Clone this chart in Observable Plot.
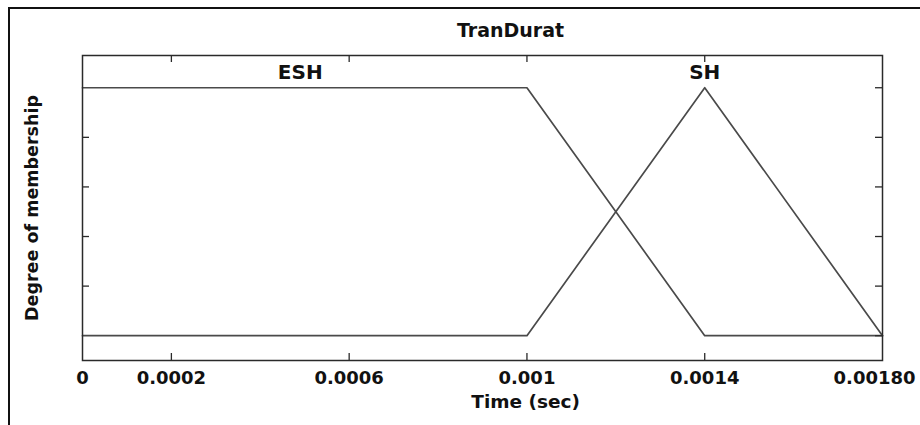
<!DOCTYPE html>
<html>
<head>
<meta charset="utf-8">
<script src="https://cdn.jsdelivr.net/npm/d3@7"></script>
<script src="https://cdn.jsdelivr.net/npm/@observablehq/plot@0.6"></script>
<style>
  html, body { margin: 0; padding: 0; background: #fff; }
  #wrap { position: relative; width: 920px; height: 425px; overflow: hidden; }
  #border { position: absolute; left: 8px; top: 7px; width: 920px; height: 430px;
            border-left: 2px solid #111; border-top: 2px solid #111; pointer-events: none; }
  #chart svg { font-family: "DejaVu Sans", sans-serif; font-weight: bold; }
</style>
</head>
<body>
<div id="wrap"><div id="chart"></div><div id="border"></div></div>
<script>
// Data
const time = [0, 0.001, 0.0014, 0.0018];
const esh = [1, 1, 0, 0];
const sh = [0, 0, 1, 0];
const seriesNames = ["ESH", "SH"];
const seriesLabelX = [0.00049, 0.0014];
const xTickValues = [0, 0.0002, 0.0006, 0.001, 0.0014, 0.0018];
const xTickLabels = ["0", "0.0002", "0.0006", "0.001", "0.0014", "0.00180"];
const innerXTicks = [0.0002, 0.0006, 0.001, 0.0014];
const yTicksLeft = [0.2, 0.4, 0.6, 0.8];
const yTicksRight = [0, 0.2, 0.4, 0.6, 0.8, 1];
const titleText = "TranDurat";
const xLabel = "Time (sec)";
const yLabel = "Degree of membership";

const rows = [];
time.forEach((t, i) => {
  rows.push({series: "ESH", t, v: esh[i]});
  rows.push({series: "SH", t, v: sh[i]});
});
const seriesLabels = seriesNames.map((s, i) => ({s, x: seriesLabelX[i], y: 1}));
const xLabelsMain = xTickValues.slice(0, -1).map((v, i) => ({v, l: xTickLabels[i]}));
const xLabelsLast = [{v: xTickValues[xTickValues.length - 1], l: xTickLabels[xTickLabels.length - 1]}];

const yMin = -0.1, yMax = 1.13;
const lineColor = "#4a4a4a";
const frameColor = "#2a2a2a";
const txt = {fontWeight: "bold", fill: "#111", lineAnchor: "middle", textAnchor: "middle"};

const chart = Plot.plot({
  width: 920,
  height: 425,
  marginLeft: 82,
  marginRight: 38,
  marginTop: 55,
  marginBottom: 65,
  x: {domain: [0, 0.0018], axis: null},
  y: {domain: [yMin, yMax], axis: null},
  style: {background: "#fff", overflow: "visible"},
  marks: [
    Plot.line(rows, {x: "t", y: "v", z: "series", stroke: lineColor, strokeWidth: 1.7}),
    Plot.frame({stroke: frameColor, strokeWidth: 1.5}),
    // inward ticks bottom / top
    Plot.ruleX(innerXTicks, {x: d => d, y1: yMin, y2: yMin, insetTop: -7, stroke: frameColor, strokeWidth: 1.3}),
    Plot.ruleX(innerXTicks, {x: d => d, y1: yMax, y2: yMax, insetBottom: -7, stroke: frameColor, strokeWidth: 1.3}),
    // inward ticks left / right
    Plot.ruleY(yTicksLeft, {y: d => d, x1: 0, x2: 0, insetRight: -7, stroke: frameColor, strokeWidth: 1.3}),
    Plot.ruleY(yTicksRight, {y: d => d, x1: 0.0018, x2: 0.0018, insetLeft: -7, stroke: frameColor, strokeWidth: 1.3}),
    // tick labels
    Plot.text(xLabelsMain, {...txt, x: "v", text: "l", frameAnchor: "bottom", dy: 17.5, fontSize: 18}),
    Plot.text(xLabelsLast, {...txt, x: "v", text: "l", frameAnchor: "bottom", dy: 17.5, dx: -8, fontSize: 18}),
    // axis labels
    Plot.text([xLabel], {...txt, x: 0.000997, frameAnchor: "bottom", dy: 41.5, text: d => d, fontSize: 18.5}),
    Plot.text([yLabel], {...txt, frameAnchor: "left", dx: -50, rotate: -90, text: d => d, fontSize: 17.5}),
    // title
    Plot.text([titleText], {...txt, x: 0.000963, frameAnchor: "top", dy: -25, text: d => d, fontSize: 19}),
    // series labels
    Plot.text(seriesLabels, {...txt, x: "x", y: "y", text: "s", dy: -15, fontSize: 20})
  ]
});
document.getElementById("chart").appendChild(chart);
</script>
</body>
</html>
